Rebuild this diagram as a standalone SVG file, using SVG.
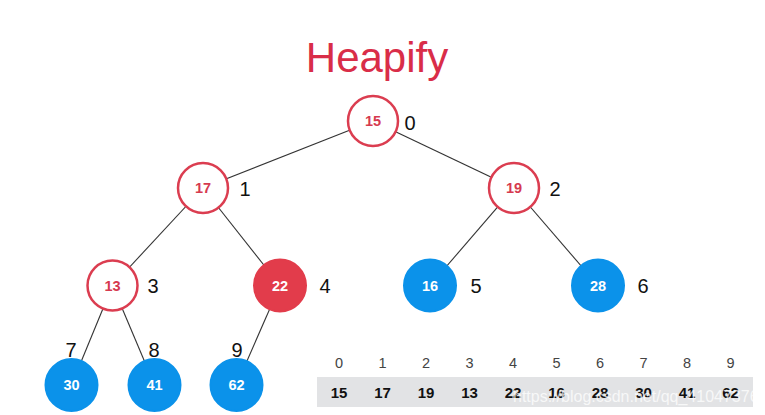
<svg xmlns="http://www.w3.org/2000/svg" width="765" height="415" viewBox="0 0 765 415">
<style>
text{font-family:"Liberation Sans",Arial,sans-serif}
.edge{stroke:#333;stroke-width:1.1;fill:none}
.open{fill:#fff;stroke:#db3d50;stroke-width:2.5}
.hot{fill:#e23c4b;stroke:#e23c4b;stroke-width:2}
.blue{fill:#0b92ea;stroke:#0b92ea;stroke-width:2}
.vr{font-size:14.5px;font-weight:bold;fill:#d63a4f;text-anchor:middle}
.vw{font-size:14.5px;font-weight:bold;fill:#fff;text-anchor:middle}
.idx{font-size:20px;fill:#111;text-anchor:middle}
.ai{font-size:14.5px;fill:#444;text-anchor:middle}
.av{font-size:15px;font-weight:bold;fill:#111;text-anchor:middle}
</style>
<rect width="765" height="415" fill="#fff"/>
<text x="377" y="72" font-size="42" fill="#d92d48" text-anchor="middle">Heapify</text>
<g id="connectors">
<line class="edge" x1="373" y1="121" x2="203" y2="188"/>
<line class="edge" x1="373" y1="121" x2="514" y2="188"/>
<line class="edge" x1="203" y1="188" x2="112.5" y2="285.5"/>
<line class="edge" x1="203" y1="188" x2="280" y2="285.5"/>
<line class="edge" x1="514" y1="188" x2="430" y2="285.5"/>
<line class="edge" x1="514" y1="188" x2="598" y2="285.5"/>
<line class="edge" x1="112.5" y1="285.5" x2="71.5" y2="385"/>
<line class="edge" x1="112.5" y1="285.5" x2="154.5" y2="385"/>
<line class="edge" x1="280" y1="285.5" x2="236.5" y2="385"/>
</g>
<g id="n0"><circle class="open" cx="373" cy="121" r="25"/><text class="vr" x="373" y="126">15</text><text class="idx" x="410" y="130">0</text></g>
<g id="n1"><circle class="open" cx="203" cy="188" r="25"/><text class="vr" x="203" y="193">17</text><text class="idx" x="245" y="196">1</text></g>
<g id="n2"><circle class="open" cx="514" cy="188" r="25"/><text class="vr" x="514" y="193">19</text><text class="idx" x="555" y="196">2</text></g>
<g id="n3"><circle class="open" cx="112.5" cy="285.5" r="25"/><text class="vr" x="112.5" y="290.5">13</text><text class="idx" x="153" y="293">3</text></g>
<g id="n4"><circle class="hot" cx="280" cy="285.5" r="26"/><text class="vw" x="280" y="290.5">22</text><text class="idx" x="325" y="293">4</text></g>
<g id="n5"><circle class="blue" cx="430" cy="285.5" r="26"/><text class="vw" x="430" y="290.5">16</text><text class="idx" x="476" y="293">5</text></g>
<g id="n6"><circle class="blue" cx="598" cy="285.5" r="26"/><text class="vw" x="598" y="290.5">28</text><text class="idx" x="643" y="293">6</text></g>
<g id="n7"><circle class="blue" cx="71.5" cy="385" r="26"/><text class="vw" x="71.5" y="390">30</text><text class="idx" x="71" y="357">7</text></g>
<g id="n8"><circle class="blue" cx="154.5" cy="385" r="26"/><text class="vw" x="154.5" y="390">41</text><text class="idx" x="154" y="357">8</text></g>
<g id="n9"><circle class="blue" cx="236.5" cy="385" r="26"/><text class="vw" x="236.5" y="390">62</text><text class="idx" x="237" y="357">9</text></g>
<g id="array">
<rect x="317" y="377" width="436" height="30" fill="#e2e3e5"/>
<text class="ai" x="339" y="368">0</text><text class="ai" x="382.5" y="368">1</text><text class="ai" x="426" y="368">2</text><text class="ai" x="469.5" y="368">3</text><text class="ai" x="513" y="368">4</text><text class="ai" x="556.5" y="368">5</text><text class="ai" x="600" y="368">6</text><text class="ai" x="643.5" y="368">7</text><text class="ai" x="687" y="368">8</text><text class="ai" x="730.5" y="368">9</text>
<text class="av" x="339" y="398">15</text><text class="av" x="382.5" y="398">17</text><text class="av" x="426" y="398">19</text><text class="av" x="469.5" y="398">13</text><text class="av" x="513" y="398">22</text><text class="av" x="556.5" y="398">16</text><text class="av" x="600" y="398">28</text><text class="av" x="643.5" y="398">30</text><text class="av" x="687" y="398">41</text><text class="av" x="730.5" y="398">62</text>
</g>
<text x="513" y="402" font-size="16" fill="#fff" fill-opacity="0.75">https://blog.csdn.net/qq_41047376</text>
</svg>
